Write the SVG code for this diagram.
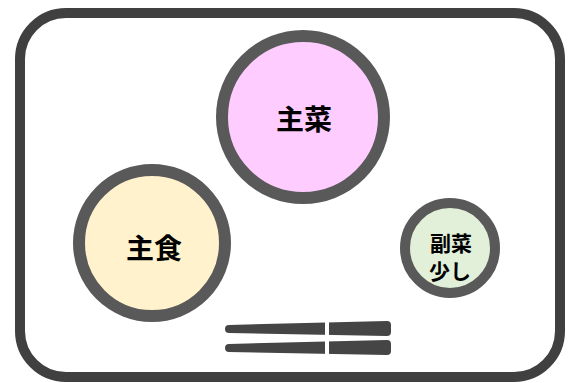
<svg xmlns="http://www.w3.org/2000/svg" width="570" height="383" viewBox="0 0 570 383">
<style>
.dish{stroke:#595959;}
.lbl{font-family:"Noto Sans CJK JP","Noto Sans CJK SC",sans-serif;font-weight:bold;fill:#000;text-anchor:middle;dominant-baseline:central;}
.stick{fill:#454545;}
</style>
<rect width="570" height="383" fill="#fff"/>
<g id="tray">
<rect x="20" y="13" width="540" height="364" rx="46" ry="46" fill="#fff" stroke="#404040" stroke-width="10"/>
</g>
<g id="shusai">
<circle class="dish" cx="303" cy="117" r="81" fill="#FFCCFF" stroke-width="12"/>
<text class="lbl" x="304" y="118" font-size="28">主菜</text>
</g>
<g id="shushoku">
<circle class="dish" cx="152" cy="243" r="73" fill="#FFF2CC" stroke-width="12"/>
<text class="lbl" x="154" y="247" font-size="28">主食</text>
</g>
<g id="fukusai">
<circle class="dish" cx="450" cy="248" r="45" fill="#E2F0D9" stroke-width="10"/>
<text class="lbl" x="451" y="242" font-size="21">副菜</text>
<text class="lbl" x="450" y="270" font-size="21">少し</text>
</g>
<g id="chopsticks">
<path class="stick" d="M229,325 L387,321 Q391,321 391,325 L391,332 Q391,336 387,336 L229,333 Q225,333 225,329 Q225,325 229,325 Z"/>
<path class="stick" d="M229,344 L387,340 Q391,340 391,344 L391,351 Q391,355 387,355 L229,352 Q225,352 225,348 Q225,344 229,344 Z"/>
<rect x="325" y="316" width="4" height="44" fill="#fff"/>
</g>
</svg>
